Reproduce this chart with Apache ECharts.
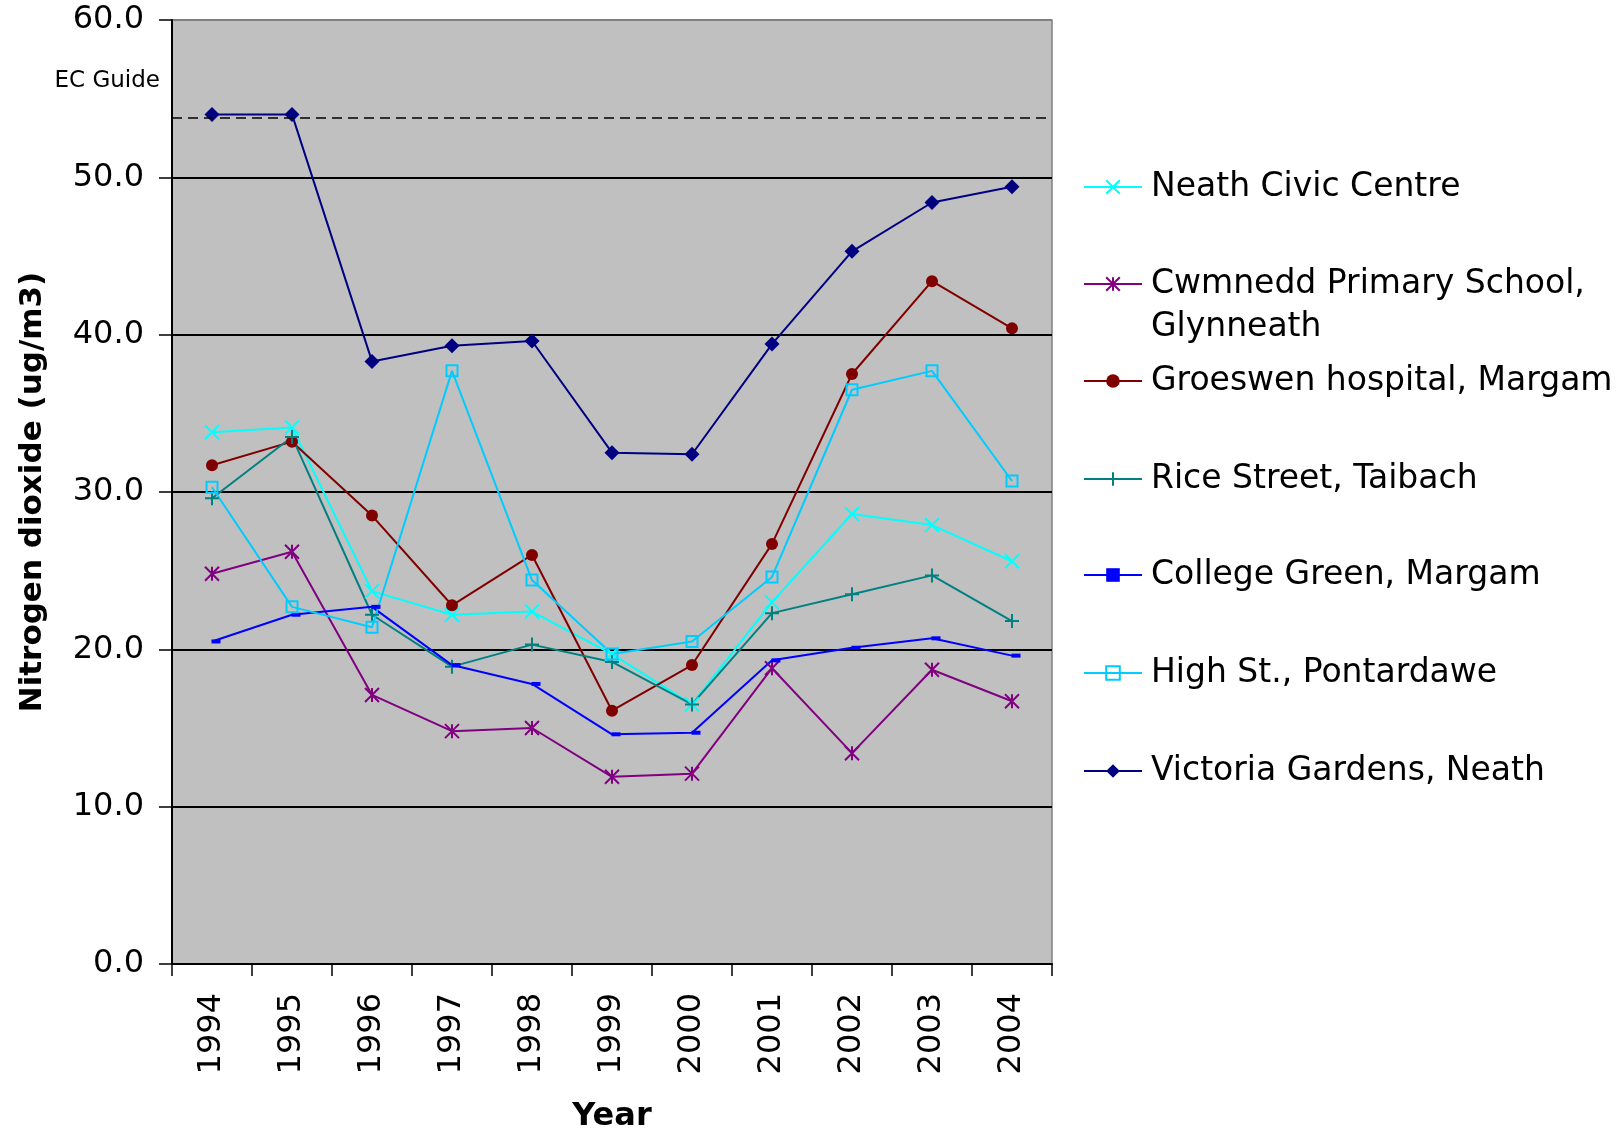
<!DOCTYPE html>
<html>
<head>
<meta charset="utf-8">
<script src="https://cdn.jsdelivr.net/npm/echarts@6/dist/echarts.min.js"></script>
<style>
html,body{margin:0;padding:0;background:#fff;}
#chart{width:1618px;height:1138px;}
</style>
</head>
<body>
<div id="chart"></div>
<script>
var years = ['1994','1995','1996','1997','1998','1999','2000','2001','2002','2003','2004'];
var neathCivic = [33.8, 34.1, 23.7, 22.2, 22.4, 19.7, 16.5, 23.0, 28.6, 27.9, 25.6];
var cwmnedd    = [24.8, 26.2, 17.1, 14.8, 15.0, 11.9, 12.1, 18.8, 13.4, 18.7, 16.7];
var groeswen   = [31.7, 33.2, 28.5, 22.8, 26.0, 16.1, 19.0, 26.7, 37.5, 43.4, 40.4];
var riceStreet = [29.6, 33.5, 22.2, 18.9, 20.3, 19.2, 16.5, 22.3, 23.5, 24.7, 21.8];
var college    = [20.5, 22.2, 22.7, 19.0, 17.8, 14.6, 14.7, 19.3, 20.1, 20.7, 19.6];
var highSt     = [30.3, 22.7, 21.4, 37.7, 24.4, 19.7, 20.5, 24.6, 36.5, 37.7, 30.7];
var victoria   = [54.0, 54.0, 38.3, 39.3, 39.6, 32.5, 32.4, 39.4, 45.3, 48.4, 49.4];
var ecGuide = 53.8;
var yTicks = [0, 10, 20, 30, 40, 50, 60];
var seriesNames = ['Neath Civic Centre', 'Cwmnedd Primary School, Glynneath', 'Groeswen hospital, Margam', 'Rice Street, Taibach', 'College Green, Margam', 'High St., Pontardawe', 'Victoria Gardens, Neath'];

var FONT = 'DejaVu Sans';
var chart = echarts.init(document.getElementById('chart'), null, {renderer: 'canvas'});

function mk(name, data, color, symbol, size, opts) {
  var s = {
    name: name, type: 'line', data: data,
    symbol: symbol, symbolSize: size,
    lineStyle: {color: color, width: 2},
    itemStyle: {color: color, borderColor: color, borderWidth: 0},
    emphasis: {disabled: true},
    animation: false
  };
  if (opts) { for (var k in opts) s[k] = opts[k]; }
  return s;
}

var series = [
  mk(seriesNames[0], neathCivic, '#00FFFF', 'path://M0,0L10,10M10,0L0,10', 14,
     {itemStyle: {color: '#00FFFF', borderColor: '#00FFFF', borderWidth: 2}}),
  mk(seriesNames[1], cwmnedd, '#800080', 'path://M0,0L10,10M10,0L0,10M5,0L5,10', 14,
     {itemStyle: {color: '#800080', borderColor: '#800080', borderWidth: 2}}),
  mk(seriesNames[2], groeswen, '#800000', 'circle', 12),
  mk(seriesNames[3], riceStreet, '#008080', 'path://M5,0L5,10M0,5L10,5', 14,
     {itemStyle: {color: '#008080', borderColor: '#008080', borderWidth: 2}}),
  mk(seriesNames[4], college, '#0000FF', 'rect', [9, 4], {symbolOffset: [4, 0]}),
  mk(seriesNames[5], highSt, '#00CCFF', 'path://M0,0L10,0L10,10L0,10Z', 11,
     {itemStyle: {color: 'rgba(0,0,0,0)', borderColor: '#00CCFF', borderWidth: 2}}),
  mk(seriesNames[6], victoria, '#000080', 'diamond', 15,
     {markLine: {
        silent: true, symbol: 'none', animation: false,
        label: {show: false},
        lineStyle: {color: '#000', type: [10, 6], width: 1.5},
        data: [{yAxis: ecGuide}]
     }})
];

var legendCenters = [187, 284, 381, 479, 575, 673, 771];
var legends = seriesNames.map(function (n, i) {
  var multi = (i === 1);
  var lh = multi ? 43 : 40;
  var h = multi ? lh * 3 : lh;
  return {
    data: [n],
    orient: 'vertical',
    left: 1083,
    top: legendCenters[i] - h / 2,
    padding: 0,
    itemWidth: 58,
    itemHeight: 17,
    itemGap: 0,
    selectedMode: false,
    formatter: multi ? function () { return '\nCwmnedd Primary School,\nGlynneath'; } : undefined,
    textStyle: {fontFamily: FONT, fontSize: 33, color: '#000', lineHeight: lh, padding: [0, 0, 0, 4]}
  };
});

var option = {
  backgroundColor: '#ffffff',
  animation: false,
  grid: {
    left: 172, right: 566, top: 20, bottom: 171,
    show: true, backgroundColor: '#C0C0C0', borderColor: '#808080', borderWidth: 1.5
  },
  legend: legends,
  xAxis: {
    type: 'category',
    data: years,
    boundaryGap: true,
    name: 'Year',
    nameLocation: 'middle',
    nameGap: 137,
    nameTextStyle: {fontFamily: FONT, fontSize: 32, fontWeight: 'bold', color: '#000'},
    axisLine: {show: true, onZero: false, lineStyle: {color: '#000', width: 2}},
    axisTick: {show: true, length: 12, interval: 0, alignWithLabel: false, lineStyle: {color: '#000', width: 1.5}},
    axisLabel: {rotate: 90, margin: 29, interval: 0, fontFamily: FONT, fontSize: 32, color: '#000'},
    splitLine: {show: false}
  },
  yAxis: {
    type: 'value',
    min: yTicks[0], max: yTicks[yTicks.length - 1], interval: 10,
    name: 'Nitrogen dioxide (ug/m3)',
    nameLocation: 'middle',
    nameGap: 124,
    nameTextStyle: {fontFamily: FONT, fontSize: 31, fontWeight: 'bold', color: '#000'},
    axisLine: {show: true, lineStyle: {color: '#000', width: 2}},
    axisTick: {show: true, length: 13, lineStyle: {color: '#000', width: 1.5}},
    axisLabel: {margin: 28, fontFamily: FONT, fontSize: 32, color: '#000',
      formatter: function (v) { return v.toFixed(1); }},
    splitLine: {show: true, lineStyle: {color: ['#000', '#000', '#000', '#000', '#000', '#000', '#808080'], width: 2}}
  },
  graphic: [{
    type: 'text', right: 1618 - 160, top: 70,
    style: {text: 'EC Guide', fontFamily: FONT, fontSize: 23, fill: '#000'}
  }],
  series: series
};
chart.setOption(option);
</script>
</body>
</html>
